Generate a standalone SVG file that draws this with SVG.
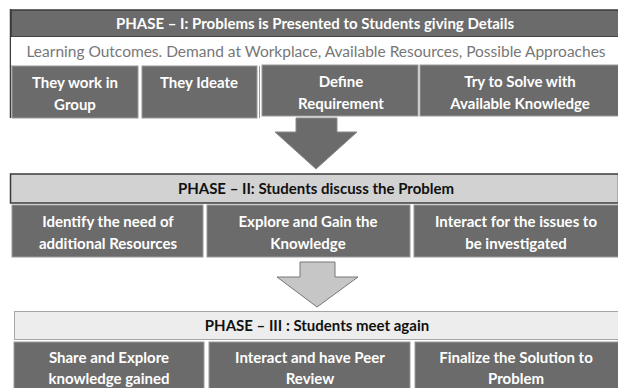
<svg xmlns="http://www.w3.org/2000/svg" width="618" height="388" viewBox="0 0 618 388">
  <defs>
    <style>
      .box { fill: #6b6b6b; stroke: #9a9a9a; stroke-width: 1; }
      .hdr-dark { fill: #6b6b6b; stroke: #3a3a3a; stroke-width: 1.5; }
      .hdr-mid { fill: #d2d2d2; stroke: #3a3a3a; stroke-width: 1.5; }
      .hdr-light { fill: #ededed; stroke: #555; stroke-width: 1; stroke-dasharray: 1 1; }
      .t { font-family: Lato, "Liberation Sans", sans-serif; font-weight: bold; text-anchor: middle; }
      .tw { fill: #ffffff; font-size: 15px; }
      .th { font-size: 15px; }
      .sub { font-family: Lato, "Liberation Sans", sans-serif; font-size: 15.5px; fill: #777777; text-anchor: middle; }
    </style>
  </defs>

  <!-- Phase I -->
  <g id="phase1">
    <line x1="10.5" y1="9" x2="10.5" y2="118" stroke="#3a3a3a" stroke-width="1.5"/>
    <rect class="hdr-dark" x="11" y="10" width="608" height="27"/>
    <text class="t th" x="315" y="29" fill="#ffffff">PHASE – I: Problems is Presented to Students giving Details</text>
    <rect x="11" y="37" width="607" height="28" fill="#ffffff"/>
    <text class="sub" x="316" y="57">Learning Outcomes. Demand at Workplace, Available Resources, Possible Approaches</text>
  </g>
  <g id="p1-group">
    <rect class="box" x="12" y="66" width="126" height="52"/>
    <text class="t tw" x="75" y="88">They work in</text>
    <text class="t tw" x="75" y="110">Group</text>
  </g>
  <g id="p1-ideate">
    <rect class="box" x="142" y="66" width="115" height="52"/>
    <text class="t tw" x="199" y="88">They Ideate</text>
  </g>
  <g id="p1-define">
    <line x1="259.5" y1="66" x2="259.5" y2="118" stroke="#9a9a9a" stroke-width="1"/>
    <rect class="box" x="262" y="65" width="156" height="51"/>
    <text class="t tw" x="341" y="87">Define</text>
    <text class="t tw" x="341" y="109">Requirement</text>
  </g>
  <g id="p1-solve">
    <rect class="box" x="420" y="65" width="199" height="51"/>
    <text class="t tw" x="520" y="87">Try to Solve with</text>
    <text class="t tw" x="520" y="109">Available Knowledge</text>
  </g>

  <!-- Phase II -->
  <g id="phase2">
    <rect class="hdr-mid" x="10.5" y="174" width="608" height="29"/>
    <text class="t th" x="316" y="194" fill="#111111">PHASE – II: Students discuss the Problem</text>
  </g>
  <g id="p2-identify">
    <rect class="box" x="12" y="205" width="191" height="52"/>
    <text class="t tw" x="108" y="227">Identify the need of</text>
    <text class="t tw" x="108" y="249">additional Resources</text>
  </g>
  <g id="p2-explore">
    <rect class="box" x="207" y="205" width="203" height="52"/>
    <text class="t tw" x="308" y="227">Explore and Gain the</text>
    <text class="t tw" x="308" y="249">Knowledge</text>
  </g>
  <g id="p2-interact">
    <rect class="box" x="414" y="205" width="205" height="52"/>
    <text class="t tw" x="516" y="227">Interact for the issues to</text>
    <text class="t tw" x="516" y="249">be investigated</text>
  </g>

  <!-- Phase III -->
  <g id="phase3">
    <rect class="hdr-light" x="14.5" y="311.5" width="604" height="28"/>
    <text class="t th" x="317" y="331" fill="#111111">PHASE – III : Students meet again</text>
  </g>
  <g id="p3-share">
    <rect class="box" x="14" y="342" width="190" height="47"/>
    <text class="t tw" x="109" y="363">Share and Explore</text>
    <text class="t tw" x="109" y="384">knowledge gained</text>
  </g>
  <g id="p3-peer">
    <rect class="box" x="209" y="342" width="201" height="47"/>
    <text class="t tw" x="310" y="363">Interact and have Peer</text>
    <text class="t tw" x="310" y="384">Review</text>
  </g>
  <g id="p3-final">
    <rect class="box" x="415" y="342" width="204" height="47"/>
    <text class="t tw" x="516" y="363">Finalize the Solution to</text>
    <text class="t tw" x="516" y="384">Problem</text>
  </g>

  <!-- Block arrows between phases -->
  <g id="connectors">
    <polygon points="296,118 337,118 337,132 357,132 316,169 275,132 296,132" fill="#6b6b6b" stroke="#8a8a8a" stroke-width="1"/>
    <polygon points="300,262 335,262 335,277 358,277 317,307 277,277 300,277" fill="#c6c6c6" stroke="#777" stroke-width="1"/>
  </g>
</svg>
